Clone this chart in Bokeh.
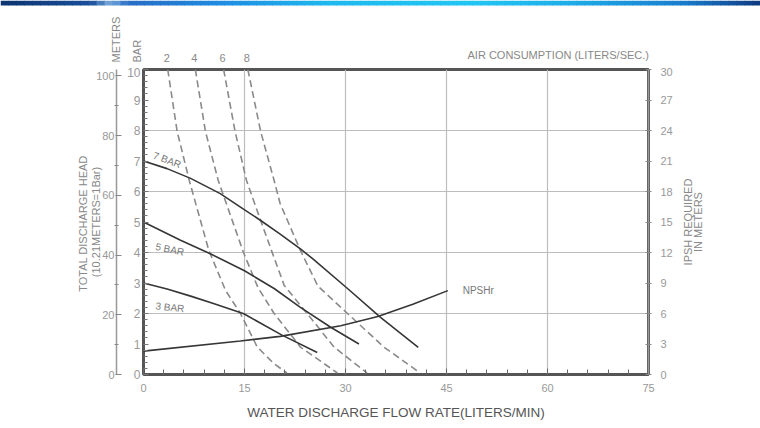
import math
from bokeh.plotting import figure
from bokeh.layouts import column, row
from bokeh.models import Range1d, LinearAxis, FixedTicker, Label
from bokeh.core.properties import value
from bokeh.embed import file_html
from bokeh.resources import INLINE

FONT = "Liberation Sans"

# ---- data (flow in L/min, head in bar) ----
bar7_flow = [0, 3.5, 7, 11.4, 14.4, 17.4, 20.3, 23.3, 25.2, 30.3, 35.2, 40.8]
bar7_head = [7.0, 6.75, 6.43, 5.93, 5.49, 5.05, 4.6, 4.12, 3.78, 2.82, 1.87, 0.89]
bar5_flow = [0, 5.5, 10, 15, 19.4, 23.3, 27.8, 32]
bar5_head = [5.0, 4.4, 3.95, 3.4, 2.82, 2.2, 1.55, 1.0]
bar3_flow = [0, 3.5, 7, 10.5, 14.9, 20.5, 25.8]
bar3_head = [3.0, 2.8, 2.57, 2.32, 1.99, 1.3, 0.72]
npsh_flow = [0, 14.4, 20.3, 29.3, 34.8, 40, 45.2]
npsh_m = [2.3, 3.3, 3.75, 4.8, 5.7, 6.9, 8.25]

air_values = ["2", "4", "6", "8"]
air2_flow = [3.6, 5.0, 6.8, 9.7, 12.2, 14.4, 16.9, 19.4, 21.3]
air2_head = [10.0, 7.97, 6.36, 4.07, 2.75, 2.0, 0.9, 0.35, 0.05]
air4_flow = [7.7, 9.2, 11.1, 14.85, 17.0, 19.4, 23.3, 28.8]
air4_head = [10.0, 7.97, 6.36, 4.0, 2.85, 2.0, 0.9, 0.05]
air6_flow = [11.9, 13.6, 15.3, 17.4, 19.0, 20.9, 24.3, 28.3, 33.2]
air6_head = [10.0, 7.97, 6.36, 5.05, 4.07, 2.92, 2.0, 0.9, 0.05]
air8_flow = [15.5, 17.4, 19.4, 20.3, 23.3, 25.9, 30.3, 35.7, 41.1]
air8_head = [10.0, 7.97, 6.36, 5.6, 4.07, 2.9, 2.0, 0.9, 0.05]

x_ticks = [0, 15, 30, 45, 60, 75]
bar_ticks = list(range(0, 11))
meter_ticks = [0, 20, 40, 60, 80, 100]
meter_minor = [10, 30, 50, 70, 90]
npsh_ticks = list(range(0, 31, 3))
npsh_title = ["IPSH REQUIRED", "IN METERS"]

M_PER_BAR = 10.21

# ---- layout constants (pixels) ----
W, H = 760, 428
FRAME_L, FRAME_W = 143, 505
FRAME_T, FRAME_H = 69, 305
TOP_H = 67
MAIN_W = 680
X_MAX, Y_MAX = 75.0, 10.0
PPX = FRAME_W / X_MAX
PPY = FRAME_H / Y_MAX

def px_to_x(px):
    return (px - FRAME_L) / PPX

def py_to_y(py):
    return (FRAME_T + FRAME_H - py) / PPY

tfont = value(FONT)

# ---------------- top strip (texts above the frame) ----------------
top = figure(width=W, height=TOP_H,
             x_range=Range1d(px_to_x(0), px_to_x(W)),
             y_range=Range1d(py_to_y(TOP_H), py_to_y(0)),
             x_axis_type=None, y_axis_type=None,
             output_backend="svg", toolbar_location=None, min_border=0)
top.frame_align = False
top.outline_line_color = None
top.grid.visible = False
top.background_fill_color = "white"
top.border_fill_color = "white"

# blue header band (decoration)
stops = [(0, (13, 52, 112)), (90, (26, 79, 154)), (110, (120, 170, 220)), (128, (40, 110, 196)),
         (220, (30, 140, 226)), (330, (31, 185, 238)), (470, (34, 198, 244)), (560, (31, 176, 234)),
         (680, (26, 127, 207)), (740, (18, 76, 150)), (760, (13, 58, 128))]
seg = 8
lefts, rights, cols = [], [], []
for sx in range(0, W, seg):
    c = sx + seg / 2
    for (a, ca), (b, cb) in zip(stops[:-1], stops[1:]):
        if a <= c <= b:
            t = (c - a) / (b - a)
            rgb = tuple(int(ca[i] + (cb[i] - ca[i]) * t) for i in range(3))
            break
    lefts.append(px_to_x(sx))
    rights.append(px_to_x(sx + seg + 0.5))
    cols.append("#%02x%02x%02x" % rgb)
top.quad(left=lefts, right=rights, bottom=py_to_y(5), top=py_to_y(0),
         fill_color=cols, line_color=None)

top.text(x=[f[0] for f in [air2_flow, air4_flow, air6_flow, air8_flow]], y=[py_to_y(57)] * 4,
         text=air_values, text_font=tfont, text_font_size="11px", text_color="#888888",
         text_align="center", text_baseline="middle", x_offset=-1)
top.text(x=[px_to_x(467)], y=[py_to_y(54)], text=["AIR CONSUMPTION (LITERS/SEC.)"],
         text_font=tfont, text_font_size="11px", text_color="#888888",
         text_align="left", text_baseline="middle")
top.text(x=[px_to_x(115), px_to_x(136)], y=[py_to_y(62)] * 2, text=["METERS", "BAR"],
         angle=math.pi / 2, text_font=tfont, text_font_size="11px", text_color="#888888",
         text_align="left", text_baseline="middle")

# ---------------- main chart ----------------
p = figure(width=MAIN_W, height=H - TOP_H, x_range=Range1d(0, X_MAX), y_range=Range1d(0, Y_MAX),
           output_backend="svg", toolbar_location=None,
           min_border_left=FRAME_L, min_border_right=MAIN_W - FRAME_L - FRAME_W,
           min_border_top=FRAME_T - TOP_H, min_border_bottom=H - FRAME_T - FRAME_H)
p.frame_align = False
p.extra_y_ranges = {"m": Range1d(0, Y_MAX * M_PER_BAR), "npsh": Range1d(0, 30)}
p.outline_line_color = "#555555"
p.outline_line_width = 3
p.background_fill_color = "white"
p.border_fill_color = "white"

p.xgrid.ticker = FixedTicker(ticks=[15, 30, 45, 60])
p.ygrid.ticker = FixedTicker(ticks=[2, 4, 6, 8])
for g in (p.xgrid[0], p.ygrid[0]):
    g.grid_line_color = "#bdbdbd"
    g.grid_line_width = 1.2

xa = p.xaxis[0]
xa.ticker = FixedTicker(ticks=x_ticks, minor_ticks=list(range(0, 76, 3)))
xa.axis_line_color = None
xa.major_tick_in = 6
xa.major_tick_out = 0
xa.minor_tick_in = 5
xa.minor_tick_out = 0
xa.major_tick_line_color = "#666666"
xa.minor_tick_line_color = "#666666"
xa.major_label_standoff = 9
xa.major_label_text_font = FONT
xa.major_label_text_font_size = "11px"
xa.major_label_text_color = "#999999"
xa.axis_label = "WATER DISCHARGE FLOW RATE(LITERS/MIN)"
xa.axis_label_standoff = 10
xa.axis_label_text_font = FONT
xa.axis_label_text_font_size = "13.5px"
xa.axis_label_text_font_style = "normal"
xa.axis_label_text_color = "#555555"

ya = p.yaxis[0]
ya.ticker = FixedTicker(ticks=bar_ticks, minor_ticks=[i / 5 for i in range(0, 51)])
ya.axis_line_color = None
ya.major_tick_in = 5
ya.major_tick_out = 0
ya.minor_tick_in = 4
ya.minor_tick_out = 0
ya.major_tick_line_color = "#777777"
ya.minor_tick_line_color = "#777777"
ya.major_label_standoff = 3
ya.major_label_text_font = FONT
ya.major_label_text_font_size = "12px"
ya.major_label_text_color = "#999999"
ya.axis_label = "|"
ya.axis_label_text_font_size = "4px"
ya.axis_label_text_alpha = 0
ya.axis_label_standoff = 0

ma = LinearAxis(y_range_name="m", ticker=FixedTicker(ticks=meter_ticks, minor_ticks=meter_minor))
ma.axis_line_color = "#999999"
ma.axis_line_width = 1.5
ma.major_tick_in = 5
ma.major_tick_out = 1
ma.minor_tick_in = 2
ma.minor_tick_out = 2
ma.major_tick_line_color = "#888888"
ma.minor_tick_line_color = "#888888"
ma.major_label_standoff = 0
ma.major_label_text_font = FONT
ma.major_label_text_font_size = "11px"
ma.major_label_text_color = "#999999"
ma.axis_label = "TOTAL DISCHARGE  HEAD\n(10.21METERS=1Bar)"
ma.axis_label_standoff = -9
ma.axis_label_text_font = FONT
ma.axis_label_text_font_size = "11px"
ma.axis_label_text_line_height = 1.1
ma.axis_label_text_font_style = "normal"
ma.axis_label_text_color = "#888888"
p.add_layout(ma, "left")

sp = LinearAxis(y_range_name="npsh", ticker=FixedTicker(ticks=[]))
sp.axis_line_color = None
sp.major_tick_out = 6
sp.major_tick_in = 0
sp.major_label_standoff = 0
p.add_layout(sp, "right")

ra = LinearAxis(y_range_name="npsh", ticker=FixedTicker(ticks=npsh_ticks))
ra.axis_line_color = "#999999"
ra.axis_line_width = 1.5
ra.major_tick_in = 3
ra.major_tick_out = 3
ra.major_tick_line_color = "#888888"
ra.minor_tick_line_color = None
ra.major_label_standoff = 9
ra.major_label_text_font = FONT
ra.major_label_text_font_size = "11px"
ra.major_label_text_color = "#999999"
p.add_layout(ra, "right")

for fx, hy in [(air2_flow, air2_head), (air4_flow, air4_head), (air6_flow, air6_head), (air8_flow, air8_head)]:
    p.line(fx, hy, line_color="#8a8a8a", line_width=1.6, line_dash="7 4")

for fx, hy in [(bar7_flow, bar7_head), (bar5_flow, bar5_head), (bar3_flow, bar3_head)]:
    p.line(fx, hy, line_color="#363636", line_width=1.6)
p.line(npsh_flow, npsh_m, y_range_name="npsh", line_color="#363636", line_width=1.6)

lab = dict(text_font=FONT, text_color="#777777", text_font_size="10px", text_baseline="middle")
p.add_layout(Label(x=1.5, y=7.2, text="7 BAR", angle=-0.36, **lab))
p.add_layout(Label(x=1.8, y=4.2, text="5 BAR", angle=-0.2, **lab))
p.add_layout(Label(x=1.8, y=2.25, text="3 BAR", angle=-0.1, **lab))
p.add_layout(Label(x=47.4, y=2.75, text="NPSHr", **lab))

# ---------------- right title strip ----------------
side = figure(width=W - MAIN_W, height=H - TOP_H,
              x_range=Range1d(MAIN_W, W), y_range=Range1d(0, 30),
              x_axis_type=None, y_axis_type=None,
              output_backend="svg", toolbar_location=None,
              min_border_left=0, min_border_right=0,
              min_border_top=FRAME_T - TOP_H, min_border_bottom=H - FRAME_T - FRAME_H)
side.frame_align = False
side.outline_line_color = None
side.grid.visible = False
side.background_fill_color = "white"
side.border_fill_color = "white"
side.text(x=[687, 697], y=[15, 15], text=npsh_title, angle=math.pi / 2,
          text_font=tfont, text_font_size="11px", text_color="#888888",
          text_align="center", text_baseline="middle")

layout = column(top, row(p, side, spacing=0), spacing=0)
open("out.html", "w").write(file_html(layout, INLINE))
